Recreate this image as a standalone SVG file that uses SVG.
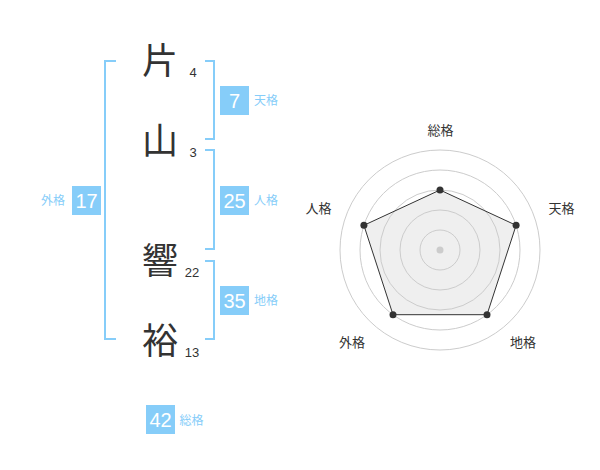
<svg xmlns="http://www.w3.org/2000/svg" width="600" height="470" viewBox="0 0 600 470">
<style>
.ch{font-family:"Noto Sans CJK JP","Noto Sans CJK SC",sans-serif;font-size:36px;fill:#333;text-anchor:middle}
.st{font-family:"Liberation Sans",Arial,sans-serif;font-size:13px;fill:#333;text-anchor:middle}
.box{fill:#86CDF9}
.bn{font-family:"Liberation Sans",Arial,sans-serif;font-size:20px;fill:#fff;text-anchor:middle}
.bl{font-family:"Noto Sans CJK JP","Noto Sans CJK SC",sans-serif;font-size:12px;fill:#86CDF9}
.br{fill:none;stroke:#86CDF9;stroke-width:2}
.rc{fill:none;stroke:#cccccc;stroke-width:1}
.rl{font-family:"Noto Sans CJK JP","Noto Sans CJK SC",sans-serif;font-size:13px;fill:#333;text-anchor:middle}
.pt{fill:#333}
</style>
<rect width="600" height="470" fill="#fff"/>
<g id="connectors">
<path class="br" d="M116,61 H105 V339 H116"/>
<path class="br" d="M205,61 H214 V139 H205"/>
<path class="br" d="M205,150 H214 V249 H205"/>
<path class="br" d="M205,261 H214 V339 H205"/>
</g>
<g id="char1"><text class="ch" x="160" y="74">片</text><text class="st" x="193" y="77">4</text></g>
<g id="char2"><text class="ch" x="160" y="154">山</text><text class="st" x="193" y="157">3</text></g>
<g id="char3"><text class="ch" x="160" y="274">響</text><text class="st" x="192" y="277">22</text></g>
<g id="char4"><text class="ch" x="160" y="354">裕</text><text class="st" x="192" y="357">13</text></g>
<g id="tenkaku"><rect class="box" x="220" y="86" width="29" height="29"/><text class="bn" x="234.5" y="107.5">7</text><text class="bl" x="254" y="105">天格</text></g>
<g id="jinkaku"><rect class="box" x="220" y="186" width="29" height="29"/><text class="bn" x="234.5" y="207.5">25</text><text class="bl" x="254" y="205">人格</text></g>
<g id="chikaku"><rect class="box" x="220" y="286" width="29" height="29"/><text class="bn" x="234.5" y="307.5">35</text><text class="bl" x="254" y="305">地格</text></g>
<g id="gaikaku"><rect class="box" x="72" y="186" width="29" height="29"/><text class="bn" x="86.5" y="207.5">17</text><text class="bl" x="41" y="205">外格</text></g>
<g id="soukaku"><rect class="box" x="146" y="405" width="29" height="29"/><text class="bn" x="160.5" y="426.5">42</text><text class="bl" x="179.5" y="424.5">総格</text></g>
<g id="radar">
<polygon points="440,190 516.1,225.3 487,314.7 393,314.7 363.9,225.3" fill="#efefef"/>
<circle class="rc" cx="440" cy="250" r="20"/>
<circle class="rc" cx="440" cy="250" r="40"/>
<circle class="rc" cx="440" cy="250" r="60"/>
<circle class="rc" cx="440" cy="250" r="80"/>
<circle class="rc" cx="440" cy="250" r="100"/>
<circle cx="440" cy="250" r="3.5" fill="#cccccc"/>
<polygon points="440,190 516.1,225.3 487,314.7 393,314.7 363.9,225.3" fill="none" stroke="#333" stroke-width="1"/>
<circle class="pt" cx="440" cy="190" r="3.5"/>
<circle class="pt" cx="516.1" cy="225.3" r="3.5"/>
<circle class="pt" cx="487" cy="314.7" r="3.5"/>
<circle class="pt" cx="393" cy="314.7" r="3.5"/>
<circle class="pt" cx="363.9" cy="225.3" r="3.5"/>
<text class="rl" x="440.5" y="135">総格</text>
<text class="rl" x="561.5" y="213">天格</text>
<text class="rl" x="523" y="346.5">地格</text>
<text class="rl" x="352" y="346.5">外格</text>
<text class="rl" x="318.5" y="213">人格</text>
</g>
</svg>
